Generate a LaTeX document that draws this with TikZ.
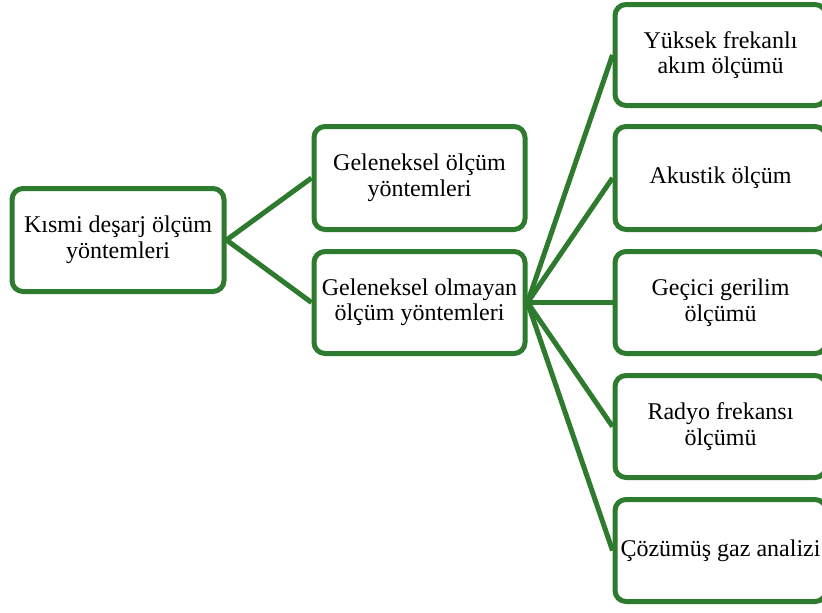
\documentclass[tikz,border=0pt]{standalone}
\usepackage{fontspec}
\setmainfont{Liberation Serif}
\definecolor{boxgreen}{RGB}{46,122,46}
\begin{document}
\begin{tikzpicture}[x=1pt,y=-1pt,
  box/.style={draw=boxgreen, line width=5pt, rounded corners=11pt, fill=white,
    minimum width=211pt, minimum height=103pt, inner sep=0pt, align=center,
    font=\fontsize{24}{25.5}\selectfont},
  link/.style={draw=boxgreen, line width=5pt}]
\useasboundingbox (0,0) rectangle (822,613);
\clip (0,0) rectangle (822,613);
\node[box, minimum width=212pt] (root) at (118,240) {Kısmi deşarj ölçüm\\yöntemleri};
\node[box] (trad) at (419.5,178) {Geleneksel ölçüm\\yöntemleri};
\node[box, minimum height=102pt] (nontrad) at (419.5,302.5) {Geleneksel olmayan\\ölçüm yöntemleri};
\node[box, minimum height=101pt] (r1) at (720.5,55) {Yüksek frekanlı\\akım ölçümü};
\node[box] (r2) at (720.5,178) {Akustik ölçüm};
\node[box, minimum height=102pt] (r3) at (720.5,302.5) {Geçici gerilim\\ölçümü};
\node[box, minimum height=102pt] (r4) at (720.5,426.5) {Radyo frekansı\\ölçümü};
\node[box, minimum height=102pt] (r5) at (720.5,550.5) {Çözümüş gaz analizi};
\draw[link] (root.east) -- (trad.west);
\draw[link] (root.east) -- (nontrad.west);
\foreach \r in {r1,r2,r3,r4,r5}{\draw[link] (nontrad.east) -- (\r.west);}
\end{tikzpicture}
\end{document}
